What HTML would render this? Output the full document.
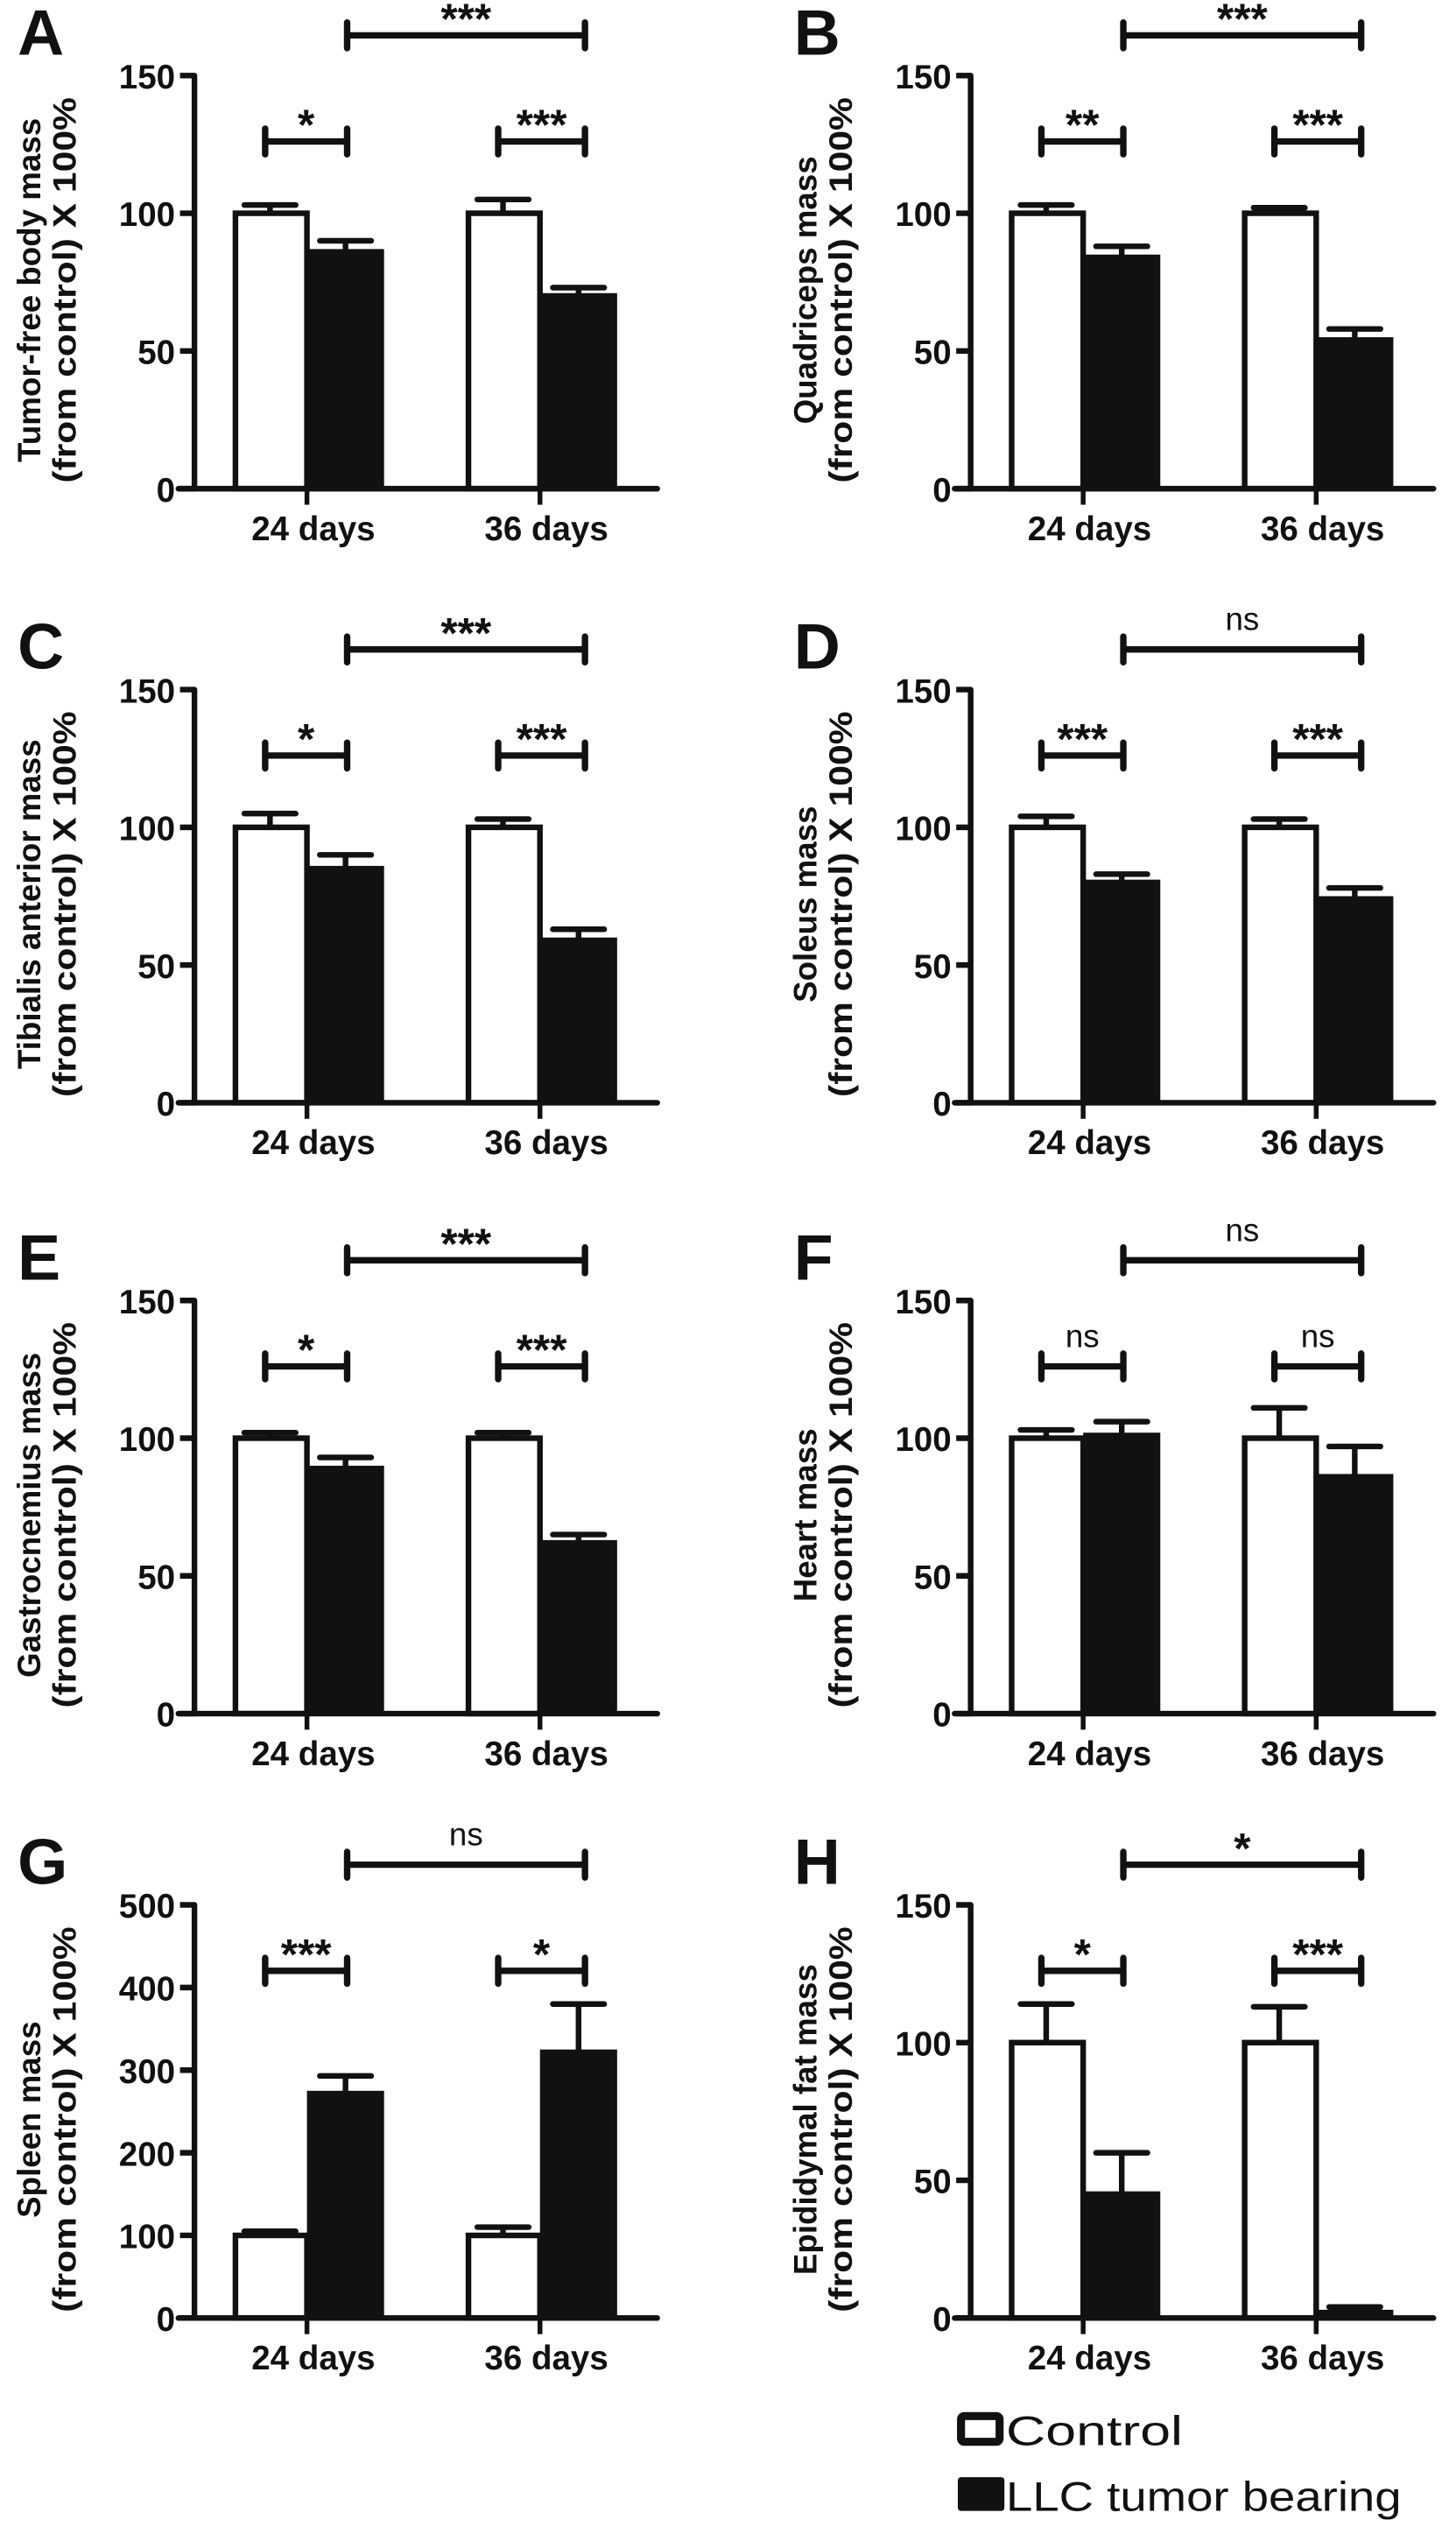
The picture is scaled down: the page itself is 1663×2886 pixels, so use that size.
<!DOCTYPE html>
<html><head><meta charset="utf-8"><style>
html,body{margin:0;padding:0;background:#fff;}
svg{display:block;}
text{font-family:"Liberation Sans",Arial,sans-serif;fill:#111;}
</style></head>
<body>
<svg id="fig" xmlns="http://www.w3.org/2000/svg" width="1663" height="2886" viewBox="0 0 906 1572" preserveAspectRatio="none"></svg>
<script>
const panelLetters = ["A","B","C","D","E","F","G","H"];
const panelTitles = ["Tumor-free body mass","Quadriceps mass","Tibialis anterior mass","Soleus mass","Gastrocnemius mass","Heart mass","Spleen mass","Epididymal fat mass"];
const categories = ["24 days","36 days"];
const controlValues = [[100,100],[100,100],[100,100],[100,100],[100,100],[100,100],[100,100],[100,100]];
const controlErrors = [[3,5],[3,2],[5,3],[4,3],[2,2],[3,11],[5,10],[14,13]];
const tumorValues = [[87,71],[85,55],[86,60],[81,75],[90,63],[102,87],[275,325],[46,3]];
const tumorErrors = [[3,2],[3,3],[4,3],[2,3],[3,2],[4,10],[18,55],[14,1]];
const yMaxes = [150,150,150,150,150,150,500,150];
const yTickLabels = [[0,50,100,150],[0,50,100,150],[0,50,100,150],[0,50,100,150],[0,50,100,150],[0,50,100,150],[0,100,200,300,400,500],[0,50,100,150]];
const sigLabels = [["*","***","***"],["**","***","***"],["*","***","***"],["***","***","ns"],["*","***","***"],["ns","ns","ns"],["***","*","ns"],["*","***","*"]];

const svg = document.getElementById('fig');
const NS = "http://www.w3.org/2000/svg";
function mk(tag, attrs, parent){
  const e = document.createElementNS(NS, tag);
  for (const k in attrs) e.setAttribute(k, attrs[k]);
  parent.appendChild(e);
  return e;
}
const rowBase = [304, 686, 1066, 1442];
const colX = [121, 604];
const plotH = 257;

panelLetters.forEach((L, i) => {
  const col = i % 2, row = Math.floor(i / 2);
  const ox = colX[col], oy = rowBase[row];
  const g = mk('g', {}, svg);
  
  
  const ymax = yMaxes[i];
  const yS = v => oy - v / ymax * plotH;
  const groupCenter = [ox + 70, ox + 215];
  const bw = 46;
  const xCtrl = c => groupCenter[c] - bw;
  const xTum = c => groupCenter[c];

  const lt = mk('text', {x: ox - 110, y: oy - 270, 'font-size': 40, 'font-weight': 'bold'}, g);
  lt.textContent = L;
  
  

  const ty = oy - plotH / 2 + 5;
  const t1 = mk('text', {x: 0, y: 0, 'font-size': 20, 'font-weight': 'bold', 'text-anchor': 'middle', transform: `translate(${ox - 96},${ty}) rotate(-90)`}, g);
  t1.textContent = panelTitles[i];
  
  
  const t2 = mk('text', {x: 0, y: 0, 'font-size': 20, 'font-weight': 'bold', 'text-anchor': 'middle', textLength: 240, lengthAdjust: 'spacingAndGlyphs', transform: `translate(${ox - 74},${ty}) rotate(-90)`}, g);
  t2.textContent = "(from control) X 100%";
  
  

  for (let c = 0; c < 2; c++) {
    const cv = controlValues[i][c], ce = controlErrors[i][c];
    const tv = tumorValues[i][c], te = tumorErrors[i][c];
    const ecx = xCtrl(c) + bw / 2;
    const eb1 = mk('path', {d: `M${ecx},${yS(cv)} V${yS(cv + ce)} M${ecx - 16},${yS(cv + ce)} H${ecx + 16}`, stroke: '#111', 'stroke-width': 3.5, 'stroke-linecap': 'round', fill: 'none'}, g);
    
    
    const etx = xTum(c) + bw / 2 + 1;
    const eb2 = mk('path', {d: `M${etx},${yS(tv)} V${yS(tv + te)} M${etx - 16},${yS(tv + te)} H${etx + 16}`, stroke: '#111', 'stroke-width': 3.5, 'stroke-linecap': 'round', fill: 'none'}, g);
    
    
    const b1 = mk('rect', {x: xCtrl(c) + 1.5, y: yS(cv), width: bw - 1.5, height: oy - yS(cv), fill: '#fff', stroke: '#111', 'stroke-width': 3.5}, g);
    
    
    const b2 = mk('rect', {x: xTum(c), y: yS(tv), width: bw + 2, height: oy - yS(tv), fill: '#111'}, g);
    
    
    mk('line', {x1: groupCenter[c], x2: groupCenter[c], y1: oy, y2: oy + 10, stroke: '#111', 'stroke-width': 3}, g);
    const xl = mk('text', {x: groupCenter[c] + 4, y: oy + 32, 'font-size': 21, 'font-weight': 'bold', 'text-anchor': 'middle'}, g);
    xl.textContent = categories[c];
    
    
  }

  const ax = mk('path', {d: `M${ox},${oy - plotH} V${oy} M${ox - 10},${oy} H${ox + 288}`, stroke: '#111', 'stroke-width': 3.5, fill: 'none', 'stroke-linecap': 'round'}, g);
  
  
  yTickLabels[i].forEach(v => {
    mk('line', {x1: ox - 9, x2: ox, y1: yS(v), y2: yS(v), stroke: '#111', 'stroke-width': 3.5}, g);
    const tl = mk('text', {x: ox - 12, y: yS(v) + 8, 'font-size': 21, 'font-weight': 'bold', 'text-anchor': 'end'}, g);
    tl.textContent = v;
    
    
  });

  const brs = [
    [ox + 44, ox + 95, oy - 216],
    [ox + 189, ox + 243, oy - 216],
    [ox + 95, ox + 243, oy - 282]
  ];
  brs.forEach((b, k) => {
    const [x1, x2, y] = b;
    const p = mk('path', {d: `M${x1},${y - 8} V${y + 8} M${x2},${y - 8} V${y + 8} M${x1},${y} H${x2}`, stroke: '#111', 'stroke-width': 4, fill: 'none', 'stroke-linecap': 'round'}, g);
    
    
    const lab = sigLabels[i][k];
    const st = mk('text', {x: (x1 + x2) / 2, y: lab === 'ns' ? y - 12 : y - 1, 'font-size': lab === 'ns' ? 20 : 27, 'font-weight': lab === 'ns' ? 'normal' : 'bold', 'text-anchor': 'middle'}, g);
    st.textContent = lab;
    
    
  });
});

const lg = mk('g', {}, svg);


mk('rect', {x: 598, y: 1503, width: 24, height: 16, fill: '#fff', stroke: '#111', 'stroke-width': 5, rx: 2}, lg);
const lc = mk('text', {x: 626, y: 1521, 'font-size': 26, textLength: 110, lengthAdjust: 'spacingAndGlyphs'}, lg);
lc.textContent = "Control";


mk('rect', {x: 596, y: 1541, width: 29, height: 21, fill: '#111', rx: 2}, lg);
const lt2 = mk('text', {x: 626, y: 1562, 'font-size': 26, textLength: 246, lengthAdjust: 'spacingAndGlyphs'}, lg);
lt2.textContent = "LLC tumor bearing";


</script>
</body></html>
